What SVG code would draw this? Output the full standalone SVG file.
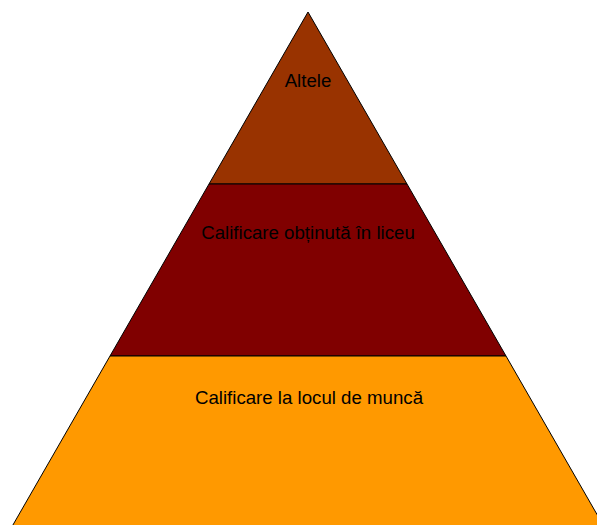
<svg xmlns="http://www.w3.org/2000/svg" width="597" height="525" viewBox="0 0 597 525">
<style>
.band{stroke:#000;stroke-width:1}
.lbl{font-family:"Liberation Sans",Arial,sans-serif;font-size:18.67px;fill:#000;text-anchor:middle}
</style>
<rect width="597" height="525" fill="#fff"/>
<g id="level-top">
<polygon class="band" points="308,12 407,184 209,184" fill="#993300"/>
<text class="lbl" x="308" y="87">Altele</text>
</g>
<g id="level-middle">
<polygon class="band" points="209,184 407,184 506,356 110,356" fill="#800000"/>
<text class="lbl" x="308" y="239">Calificare obținută în liceu</text>
</g>
<g id="level-bottom">
<polygon class="band" points="110,356 506,356 614,544 2,544" fill="#FF9900"/>
<text class="lbl" x="309" y="404">Calificare la locul de muncă</text>
</g>
</svg>
